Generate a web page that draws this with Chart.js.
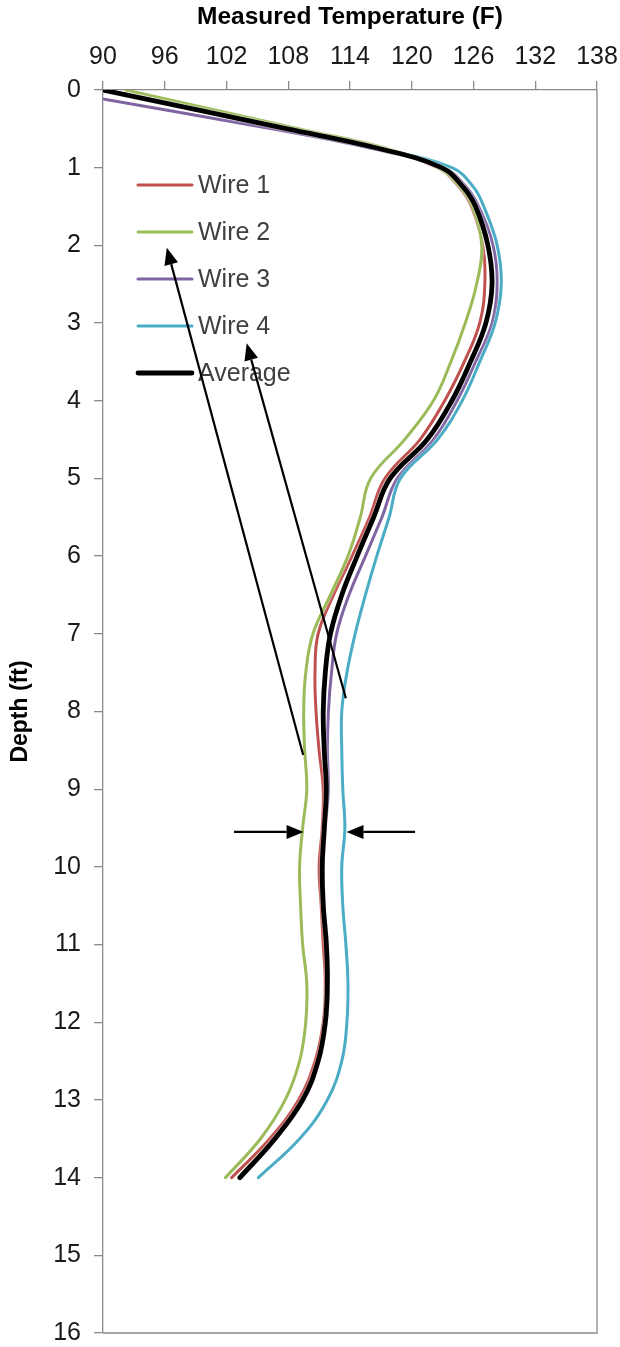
<!DOCTYPE html>
<html><head><meta charset="utf-8">
<script src="https://cdn.jsdelivr.net/npm/chart.js@4.4.1/dist/chart.umd.min.js"></script>
<style>html,body{margin:0;padding:0;background:#fff}#wrap{width:620px;height:1347px}</style>
</head><body><div id="wrap"><canvas id="c" width="620" height="1347"></canvas></div>
<script>
// ---- data ----
const depths = [0,0.5,0.75,1,1.25,1.5,2,2.5,3,3.5,4,4.5,5,5.5,6,6.5,7,7.5,8,8.5,9,9.5,10,10.5,11,11.5,12,12.5,13,13.5,14];
const wire1 = [90.0,107.8,116.6,122.5,124.6,125.8,126.9,127.1,126.6,125.1,123.2,120.8,117.4,115.9,114.2,112.4,110.9,110.6,110.7,111.0,111.4,111.3,111.0,111.2,111.4,111.6,111.4,110.6,109.0,106.2,102.5];
const wire2 = [92.2,109.1,117.5,122.6,124.7,125.9,126.8,126.3,125.2,123.8,122.1,119.3,116.0,115.0,113.8,112.1,110.4,109.7,109.5,109.6,109.8,109.4,109.1,109.2,109.4,109.8,109.7,109.1,107.7,105.3,101.9];
const wire3 = [85.0,106.4,116.0,123.1,125.3,126.5,127.9,128.3,127.8,126.2,124.4,122.1,118.6,117.1,115.5,113.9,112.7,112.2,111.9,111.8,111.9,111.6,111.4,111.5,111.8,111.9,111.7,111.0,109.5,106.8,103.4];
const wire4 = [90.0,108.0,116.8,123.9,126.0,127.0,128.3,128.7,128.1,126.6,124.9,122.5,118.9,117.8,116.6,115.5,114.5,113.7,113.2,113.2,113.3,113.5,113.2,113.3,113.6,113.8,113.7,113.2,111.8,109.1,105.1];
const average = [90.0,107.9,116.7,122.9,125.0,126.2,127.4,127.8,127.2,125.7,123.9,121.5,117.9,116.3,114.7,113.2,112.1,111.6,111.4,111.5,111.7,111.5,111.3,111.4,111.7,111.8,111.6,110.9,109.4,106.7,103.3];
const seriesNames = ['Wire 1','Wire 2','Wire 3','Wire 4','Average'];
const xTicks = [90,96,102,108,114,120,126,132,138];
const yTicks = [0,1,2,3,4,5,6,7,8,9,10,11,12,13,14,15,16];
// annotation arrows: [temperature, depth] tail -> head
const arrowTails = [[109.45,8.56],[113.6,7.83],[102.73,9.55],[120.32,9.55]];
const arrowHeads = [[96.2,2.03],[103.96,3.26],[109.49,9.55],[113.66,9.55]];

const colors = ['#C0504D','#9BBB59','#8064A2','#4BACC6','#000000'];
const widths = [3,3,3,3,4.8];
const orders = [4,3,2,1,0];
const allSeries = [wire1,wire2,wire3,wire4,average];

const FONT = "'Liberation Sans', Arial, sans-serif";
const TXT = '#1a1a1a';

const datasets = allSeries.map((vals,k)=>({
  label: seriesNames[k],
  data: depths.map((d,i)=>({x: vals[i], y: d})),
  borderColor: colors[k],
  backgroundColor: colors[k],
  borderWidth: widths[k],
  pointRadius: 0,
  fill: false,
  tension: 0.4,
  order: orders[k],
  borderCapStyle: 'round',
  borderJoinStyle: 'round'
}));

const glowPlugin = {
  id: 'glow',
  beforeDatasetDraw(chart) {
    const ctx = chart.ctx; ctx.save();
    ctx.shadowColor = 'rgba(255,255,255,0.95)';
    ctx.shadowBlur = 2;
  },
  afterDatasetDraw(chart) { chart.ctx.restore(); }
};

const framePlugin = {
  id: 'frame',
  beforeDatasetsDraw(chart) {
    const {ctx, chartArea:a} = chart;
    ctx.save();
    ctx.strokeStyle = '#8a8a8a'; ctx.lineWidth = 1.3;
    ctx.beginPath();
    ctx.moveTo(a.right, a.top); ctx.lineTo(a.right, a.bottom); ctx.lineTo(a.left, a.bottom);
    ctx.stroke();
    ctx.restore();
  }
};

const legendPlugin = {
  id: 'insideLegend',
  afterDatasetsDraw(chart) {
    const {ctx, chartArea:a} = chart;
    ctx.save();
    ctx.font = '25px ' + FONT;
    ctx.textBaseline = 'middle';
    ctx.textAlign = 'left';
    chart.data.datasets.forEach((ds,i)=>{
      const y = a.top + 95 + i*47;
      ctx.strokeStyle = ds.borderColor;
      ctx.lineWidth = ds.borderWidth;
      ctx.lineCap = 'round';
      ctx.beginPath(); ctx.moveTo(a.left+35, y); ctx.lineTo(a.left+89, y); ctx.stroke();
      ctx.fillStyle = '#404040';
      ctx.fillText(ds.label, a.left+95, y+1);
    });
    ctx.restore();
  }
};

const arrowPlugin = {
  id: 'arrows',
  afterDraw(chart) {
    const {ctx} = chart;
    const xs = chart.scales.x, ys = chart.scales.y;
    ctx.save();
    ctx.strokeStyle = '#000'; ctx.fillStyle = '#000'; ctx.lineWidth = 2.2;
    arrowTails.forEach((t,i)=>{
      const h = arrowHeads[i];
      const x1 = xs.getPixelForValue(t[0]), y1 = ys.getPixelForValue(t[1]);
      const x2 = xs.getPixelForValue(h[0]), y2 = ys.getPixelForValue(h[1]);
      const ang = Math.atan2(y2-y1, x2-x1);
      const L = 17, W = 7;
      const bx = x2 - L*Math.cos(ang), by = y2 - L*Math.sin(ang);
      ctx.beginPath(); ctx.moveTo(x1,y1); ctx.lineTo(bx,by); ctx.stroke();
      ctx.beginPath();
      ctx.moveTo(x2,y2);
      ctx.lineTo(bx + W*Math.sin(ang), by - W*Math.cos(ang));
      ctx.lineTo(bx - W*Math.sin(ang), by + W*Math.cos(ang));
      ctx.closePath(); ctx.fill();
    });
    ctx.restore();
  }
};

new Chart(document.getElementById('c'), {
  type: 'line',
  data: { datasets },
  options: {
    indexAxis: 'y',
    responsive: false,
    devicePixelRatio: 1,
    animation: false,
    layout: { padding: { left: 0, top: 0, right: 23, bottom: 14 } },
    plugins: { legend: { display: false }, tooltip: { enabled: false } },
    scales: {
      x: {
        type: 'linear', position: 'top', min: 90, max: 138,
        afterBuildTicks(s){ s.ticks = xTicks.map(v=>({value:v})); },
        afterFit(s){ s.height = 90; s.paddingLeft = 0; s.paddingRight = 0; },
        ticks: { font: { size: 25, family: FONT }, color: TXT, padding: 9 },
        grid: { drawOnChartArea: false, drawTicks: true, tickLength: 9, color: '#8a8a8a', lineWidth: 1.3 },
        border: { display: true, color: '#8a8a8a', width: 1.3 },
        title: { display: true, text: 'Measured Temperature (F)', font: { size: 24.5, weight: 'bold', family: FONT }, color: '#000', padding: { top: 3, bottom: 0 } }
      },
      y: {
        type: 'linear', position: 'left', min: 0, max: 16, reverse: true,
        afterBuildTicks(s){ s.ticks = yTicks.map(v=>({value:v})); },
        afterFit(s){ s.width = 103; s.paddingTop = 0; s.paddingBottom = 0; },
        ticks: { font: { size: 25, family: FONT }, color: TXT, padding: 13 },
        grid: { drawOnChartArea: false, drawTicks: true, tickLength: 9, color: '#8a8a8a', lineWidth: 1.3 },
        border: { display: true, color: '#8a8a8a', width: 1.3 },
        title: { display: true, text: 'Depth (ft)', font: { size: 23, weight: 'bold', family: FONT }, color: '#000', padding: { top: 7, bottom: 0 } }
      }
    }
  },
  plugins: [glowPlugin, framePlugin, legendPlugin, arrowPlugin]
});
</script>
</body></html>
